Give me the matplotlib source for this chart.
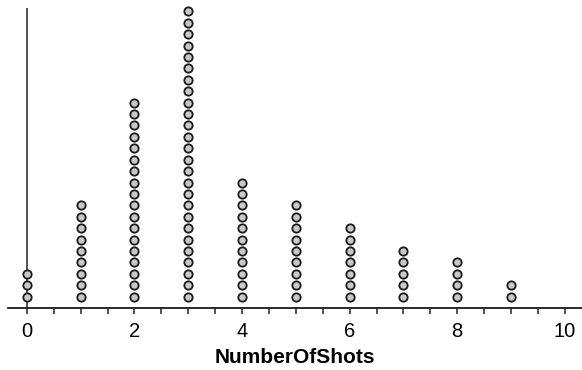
import matplotlib
matplotlib.use("Agg")
import matplotlib.pyplot as plt
from matplotlib.ticker import MultipleLocator, FixedLocator

shots = [0, 1, 2, 3, 4, 5, 6, 7, 8, 9]
counts = [3, 9, 18, 26, 11, 9, 7, 5, 4, 2]
tick_labels = ["0", "2", "4", "6", "8", "10"]
xlabel = "NumberOfShots"

plt.rcParams['font.family'] = ['Liberation Sans', 'DejaVu Sans']

fig = plt.figure(figsize=(5.82, 3.70), dpi=100)
ax = fig.add_axes([8/582, 62/370, 574/582, 300/370])

xs, ys = [], []
for s, c in zip(shots, counts):
    for k in range(1, c + 1):
        xs.append(s)
        ys.append(k)
ax.plot(xs, ys, linestyle='none', marker='o', markersize=6.0,
        markerfacecolor='#c8c8c8', markeredgecolor='#1a1a1a', markeredgewidth=1.3,
        clip_on=False)

ax.set_xlim(-0.35, 10.32)
ax.set_ylim(0, 26.3)
ax.axvline(0, color='#222222', lw=1.1, zorder=0)

for sp in ['top', 'right', 'left']:
    ax.spines[sp].set_visible(False)
ax.spines['bottom'].set_linewidth(1.3)
ax.spines['bottom'].set_color('#1a1a1a')
ax.set_yticks([])
ax.xaxis.set_major_locator(FixedLocator([0, 2, 4, 6, 8, 10]))
ax.set_xticklabels(tick_labels)
ax.xaxis.set_minor_locator(MultipleLocator(0.5))
ax.tick_params(axis='x', which='both', direction='out', length=4, width=1.1,
               color='#222222', labelsize=14.5, pad=6)
ax.set_xlabel(xlabel, fontsize=15, fontweight='bold', labelpad=5)

fig.savefig("out.png", dpi=100)
